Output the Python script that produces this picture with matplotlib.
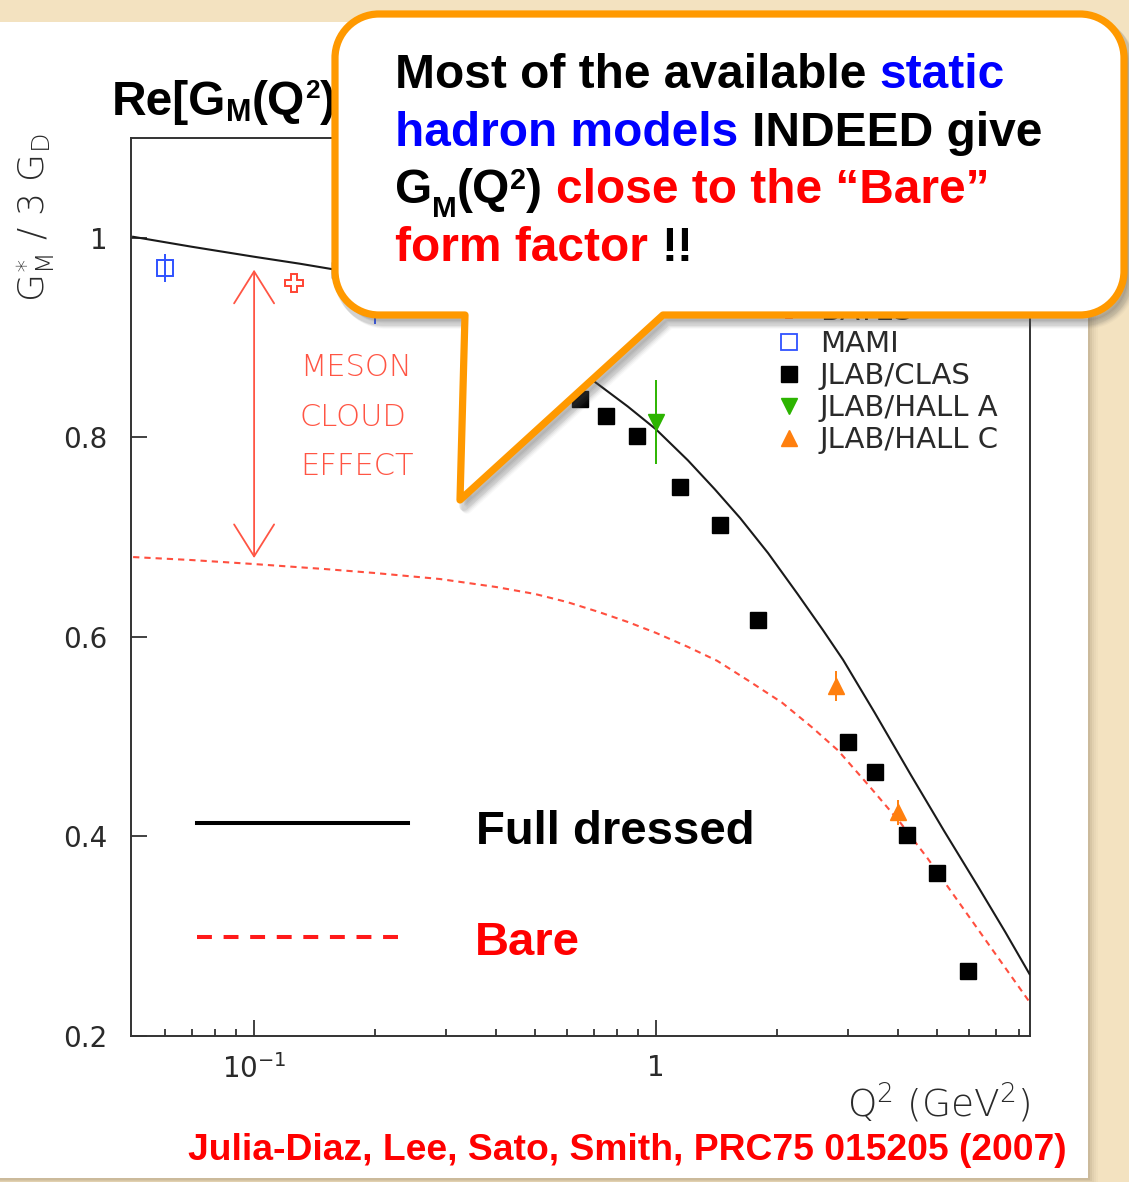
import matplotlib
matplotlib.use('Agg')
import matplotlib.pyplot as plt
import matplotlib.patches as patches
from matplotlib.path import Path
from matplotlib.lines import Line2D
from matplotlib.ticker import FixedLocator, FixedFormatter, NullFormatter

plt.rcParams['font.family'] = ['DejaVu Sans']
plt.rcParams['mathtext.default'] = 'regular'

W, H = 1129, 1182

# model curves, G*_M / 3 G_D against Q^2 (GeV^2)
full_q2 = [0.05, 0.07, 0.1, 0.13, 0.165, 0.2, 0.25, 0.3, 0.4, 0.5, 0.6, 0.713, 0.85, 1.0, 1.2,
           1.4, 1.62, 1.9, 2.25, 2.6, 2.92, 3.5, 4.3, 5.2, 6.3, 7.4, 8.5]
full_gm = [1.001, 0.991, 0.981, 0.974, 0.967, 0.959, 0.948, 0.937, 0.915, 0.895, 0.876, 0.854, 0.831, 0.808, 0.777,
           0.748, 0.719, 0.684, 0.643, 0.607, 0.577, 0.524, 0.462, 0.406, 0.351, 0.304, 0.262]
bare_q2 = [0.05, 0.07, 0.1, 0.15, 0.2, 0.29, 0.4, 0.5, 0.6, 0.72, 0.85, 1.0, 1.2, 1.42, 1.7,
           2.06, 2.45, 2.84, 3.4, 4.05, 4.72, 5.6, 6.8, 8.5]
bare_gm = [0.680, 0.677, 0.673, 0.668, 0.664, 0.658, 0.650, 0.643, 0.635, 0.625, 0.615, 0.604, 0.590, 0.576, 0.556,
           0.534, 0.509, 0.486, 0.450, 0.414, 0.379, 0.337, 0.289, 0.234]

# measurements
clas_q2 = [0.164, 0.647, 0.751, 0.897, 1.147, 1.443, 1.793, 3.0, 3.51, 4.21, 5.0, 5.98]
clas_gm = [0.968, 0.838, 0.821, 0.801, 0.750, 0.712, 0.617, 0.495, 0.465, 0.401, 0.363, 0.265]
mami_q2 = [0.06, 0.2]
mami_gm = [0.970, 0.945]
mami_err = [0.014, 0.031]
bates_q2 = [0.126]
bates_gm = [0.955]
halla_q2 = [1.0]
halla_gm = [0.815]
halla_err = [0.042]
hallc_q2 = [2.8, 4.0]
hallc_gm = [0.551, 0.424]
hallc_err = [0.015, 0.013]

y_ticks = [0.2, 0.4, 0.6, 0.8, 1.0]
y_ticklabels = ['0.2', '0.4', '0.6', '0.8', '1']
x_ticks = [0.1, 1.0]
x_ticklabels = [r'$10^{-1}$', '1']
x_minor = [0.06, 0.07, 0.08, 0.09, 0.2, 0.3, 0.4, 0.5, 0.6, 0.7, 0.8, 0.9, 2, 3, 4, 5, 6, 7, 8]
legend_labels = ['BATES', 'MAMI', 'JLAB/CLAS', 'JLAB/HALL A', 'JLAB/HALL C']

c_bates = '#ff4433'
c_mami = '#2f52ff'
c_halla = '#2cb400'
c_hallc = '#ff7f0e'
c_meson = '#ff5544'
c_axis = '#333333'
orange = '#ff9900'

fig = plt.figure(figsize=(W / 100, H / 100), dpi=100, facecolor='#f3e2c0')

# white page with a soft shadow on the parchment
bg = fig.add_axes([0, 0, 1, 1], zorder=0)
bg.set_xlim(0, W)
bg.set_ylim(H, 0)
bg.axis('off')
for k, a in enumerate([0.10, 0.08, 0.06, 0.04, 0.03]):
    bg.add_patch(patches.Rectangle((0, 22), 1090 + 2 * k, 1158 + k, color='#6b5a40', alpha=a, lw=0))
bg.add_patch(patches.Rectangle((0, 22), 1088, 1156, color='white', lw=0))

# the plot itself
ax = fig.add_axes([131 / W, 1 - 1036 / H, (1030 - 131) / W, (1036 - 138) / H], zorder=1)
ax.set_xscale('log')
ax.set_xlim(0.0494, 8.52)
ax.set_ylim(0.2, 1.1)

ax.plot(full_q2, full_gm, color='#1a1a1a', lw=1.5, zorder=3)
ax.plot(bare_q2, bare_gm, color='#ff4f3f', lw=1.5, dashes=(3, 2.4), zorder=3)

ax.errorbar(mami_q2, mami_gm, yerr=mami_err, fmt='s', ms=11, mfc='none', mec=c_mami, mew=1.4,
            ecolor=c_mami, elinewidth=1.4, capsize=0, zorder=4)
ax.plot(bates_q2, bates_gm, ls='none', marker='P', ms=13, mfc='none', mec=c_bates, mew=1.4, zorder=4)
ax.plot(clas_q2, clas_gm, ls='none', marker='s', ms=12, color='black', zorder=4)
ax.errorbar(halla_q2, halla_gm, yerr=halla_err, fmt='v', ms=12, color=c_halla,
            elinewidth=1.4, capsize=0, zorder=4)
ax.errorbar(hallc_q2, hallc_gm, yerr=hallc_err, fmt='^', ms=12, color=c_hallc,
            elinewidth=1.4, capsize=0, zorder=4)

# meson cloud arrow between dressed and bare
ax.annotate('', xy=(0.1, 0.968), xytext=(0.1, 0.679),
            arrowprops=dict(arrowstyle='<->, head_length=1.15, head_width=0.72', color=c_meson,
                            lw=1.3, shrinkA=0, shrinkB=0, mutation_scale=20))
for yv, word in zip([0.870, 0.820, 0.771], ['MESON', 'CLOUD', 'EFFECT']):
    ax.text(0.13, yv, word, color=c_meson, fontsize=22, fontweight='light', va='center', ha='left')

# axes styling
for s in ax.spines.values():
    s.set_color(c_axis)
    s.set_linewidth(1.4)
ax.yaxis.set_major_locator(FixedLocator(y_ticks))
ax.yaxis.set_major_formatter(FixedFormatter(y_ticklabels))
ax.xaxis.set_major_locator(FixedLocator(x_ticks))
ax.xaxis.set_major_formatter(FixedFormatter(x_ticklabels))
ax.xaxis.set_minor_locator(FixedLocator(x_minor))
ax.xaxis.set_minor_formatter(NullFormatter())
ax.tick_params(which='both', direction='in', top=False, right=False, color=c_axis, width=1.3,
               labelcolor='#2a2a2a', labelsize=20)
ax.tick_params(which='major', length=11.5)
ax.tick_params(which='minor', length=5)
ax.tick_params(axis='y', pad=17)
ax.tick_params(axis='x', pad=13)

ax.set_ylabel(r'G$^{\ast}_{M}$ / 3 G$_{D}$', fontsize=26, color='#2a2a2a', fontweight='light')
ax.yaxis.set_label_coords(-0.083, 0.911)
ax.set_xlabel(r'Q$^{2}$ (GeV$^{2}$)', fontsize=27, color='#2a2a2a', fontweight='light', ha='right')
ax.xaxis.set_label_coords(1.0, -0.05)

handles = [
    Line2D([], [], ls='none', marker='P', ms=11, mfc='none', mec=c_bates, mew=1.3),
    Line2D([], [], ls='none', marker='s', ms=11, mfc='none', mec=c_mami, mew=1.3),
    Line2D([], [], ls='none', marker='s', ms=12, color='black'),
    Line2D([], [], ls='none', marker='v', ms=12, color=c_halla),
    Line2D([], [], ls='none', marker='^', ms=12, color=c_hallc),
]
ax.legend(handles, legend_labels, loc='upper left', bbox_to_anchor=(0.7155, 0.8214), frameon=False,
          fontsize=21, labelcolor='#2a2a2a', handlelength=1.0, handletextpad=0.56, borderpad=0,
          borderaxespad=0, labelspacing=0.134)

# curve key
ax.plot([0.0734, 0.308], [0.2372, 0.2372], transform=ax.transAxes, color='black', lw=2.9)
ax.plot([0.0734, 0.308], [0.1102, 0.1102], transform=ax.transAxes, color='#ff1a1a', lw=2.9,
        dashes=(3.7, 2.9))

# overlay in pixel coordinates for the annotations
ov = fig.add_axes([0, 0, 1, 1], zorder=3)
ov.set_xlim(0, W)
ov.set_ylim(H, 0)
ov.axis('off')
renderer = fig.canvas.get_renderer()


def rich_line(x, y, pieces, size, sub=(0.62, 0.3), sup=(0.6, 0.3), zorder=5):
    px = size * 100 / 72
    for txt, color, kind in pieces:
        if kind == 'sp':
            x += 0.278 * px
            continue
        fs, yy = size, y
        if kind == 'sub':
            fs, yy = size * sub[0], y + sub[1] * px
        elif kind == 'sup':
            fs, yy = size * sup[0], y - sup[1] * px
        t = ov.text(x, yy, txt, fontsize=fs, color=color, fontweight='bold', family='Liberation Sans',
                    va='baseline', ha='left', zorder=zorder)
        x += t.get_window_extent(renderer).width
    return x


K, B, R = 'black', '#0000ff', '#ff0000'

# title, partly hidden by the speech bubble
rich_line(112, 115, [('Re[G', K, ''), ('M', K, 'sub'), ('(Q', K, ''), ('2', K, 'sup'), (')]', K, '')],
          34.5, sub=(0.64, 0.12), sup=(0.55, 0.36), zorder=1)


def bubble_path(x0, y0, x1, y1, r, tl, tip, tr, dx=0, dy=0):
    k = 0.5523 * r
    v = [(x0 + r, y0), (x1 - r, y0),
         (x1 - r + k, y0), (x1, y0 + r - k), (x1, y0 + r),
         (x1, y1 - r),
         (x1, y1 - r + k), (x1 - r + k, y1), (x1 - r, y1),
         (tr, y1), tip, (tl, y1), (x0 + r, y1),
         (x0 + r - k, y1), (x0, y1 - r + k), (x0, y1 - r),
         (x0, y0 + r),
         (x0, y0 + r - k), (x0 + r - k, y0), (x0 + r, y0),
         (x0 + r, y0)]
    c = [Path.MOVETO, Path.LINETO,
         Path.CURVE4, Path.CURVE4, Path.CURVE4,
         Path.LINETO,
         Path.CURVE4, Path.CURVE4, Path.CURVE4,
         Path.LINETO, Path.LINETO, Path.LINETO, Path.LINETO,
         Path.CURVE4, Path.CURVE4, Path.CURVE4,
         Path.LINETO,
         Path.CURVE4, Path.CURVE4, Path.CURVE4,
         Path.CLOSEPOLY]
    return Path([(a + dx, b + dy) for a, b in v], c)


bub = dict(x0=335, y0=14, x1=1124, y1=315, r=44, tl=465, tip=(460, 500), tr=663)
for k, a in enumerate([0.10, 0.08, 0.06, 0.04]):
    ov.add_patch(patches.PathPatch(bubble_path(**bub, dx=4 + k, dy=6 + k), facecolor='#555555',
                                   edgecolor='#555555', lw=7, alpha=a, joinstyle='round', zorder=2))
ov.add_patch(patches.PathPatch(bubble_path(**bub), facecolor='white', edgecolor=orange, lw=5.2,
                               joinstyle='round', zorder=3))

fs_bub = 34.5
rich_line(395, 88, [('Most of the available', K, ''), ('', K, 'sp'), ('static', B, '')], fs_bub)
rich_line(395, 146, [('hadron models', B, ''), ('', K, 'sp'), ('INDEED give', K, '')], fs_bub)
rich_line(395, 203, [('G', K, ''), ('M', K, 'sub'), ('(Q', K, ''), ('2', K, 'sup'), (')', K, ''),
                     ('', K, 'sp'), ('close to the \u201cBare\u201d', R, '')], fs_bub)
rich_line(395, 261, [('form factor', R, ''), ('', K, 'sp'), ('!!', K, '')], fs_bub)

# curve key labels and reference
ov.text(476, 844, 'Full dressed', fontsize=34, fontweight='bold', family='Liberation Sans',
        color='black', va='baseline', ha='left', zorder=5)
ov.text(475, 955, 'Bare', fontsize=34, fontweight='bold', family='Liberation Sans',
        color='#ff0000', va='baseline', ha='left', zorder=5)
ov.text(188, 1160, 'Julia-Diaz, Lee, Sato, Smith, PRC75 015205 (2007)', fontsize=26.8, fontweight='bold',
        family='Liberation Sans', color='#ff0000', va='baseline', ha='left', zorder=5)

fig.savefig('out.png', dpi=100, facecolor=fig.get_facecolor())
